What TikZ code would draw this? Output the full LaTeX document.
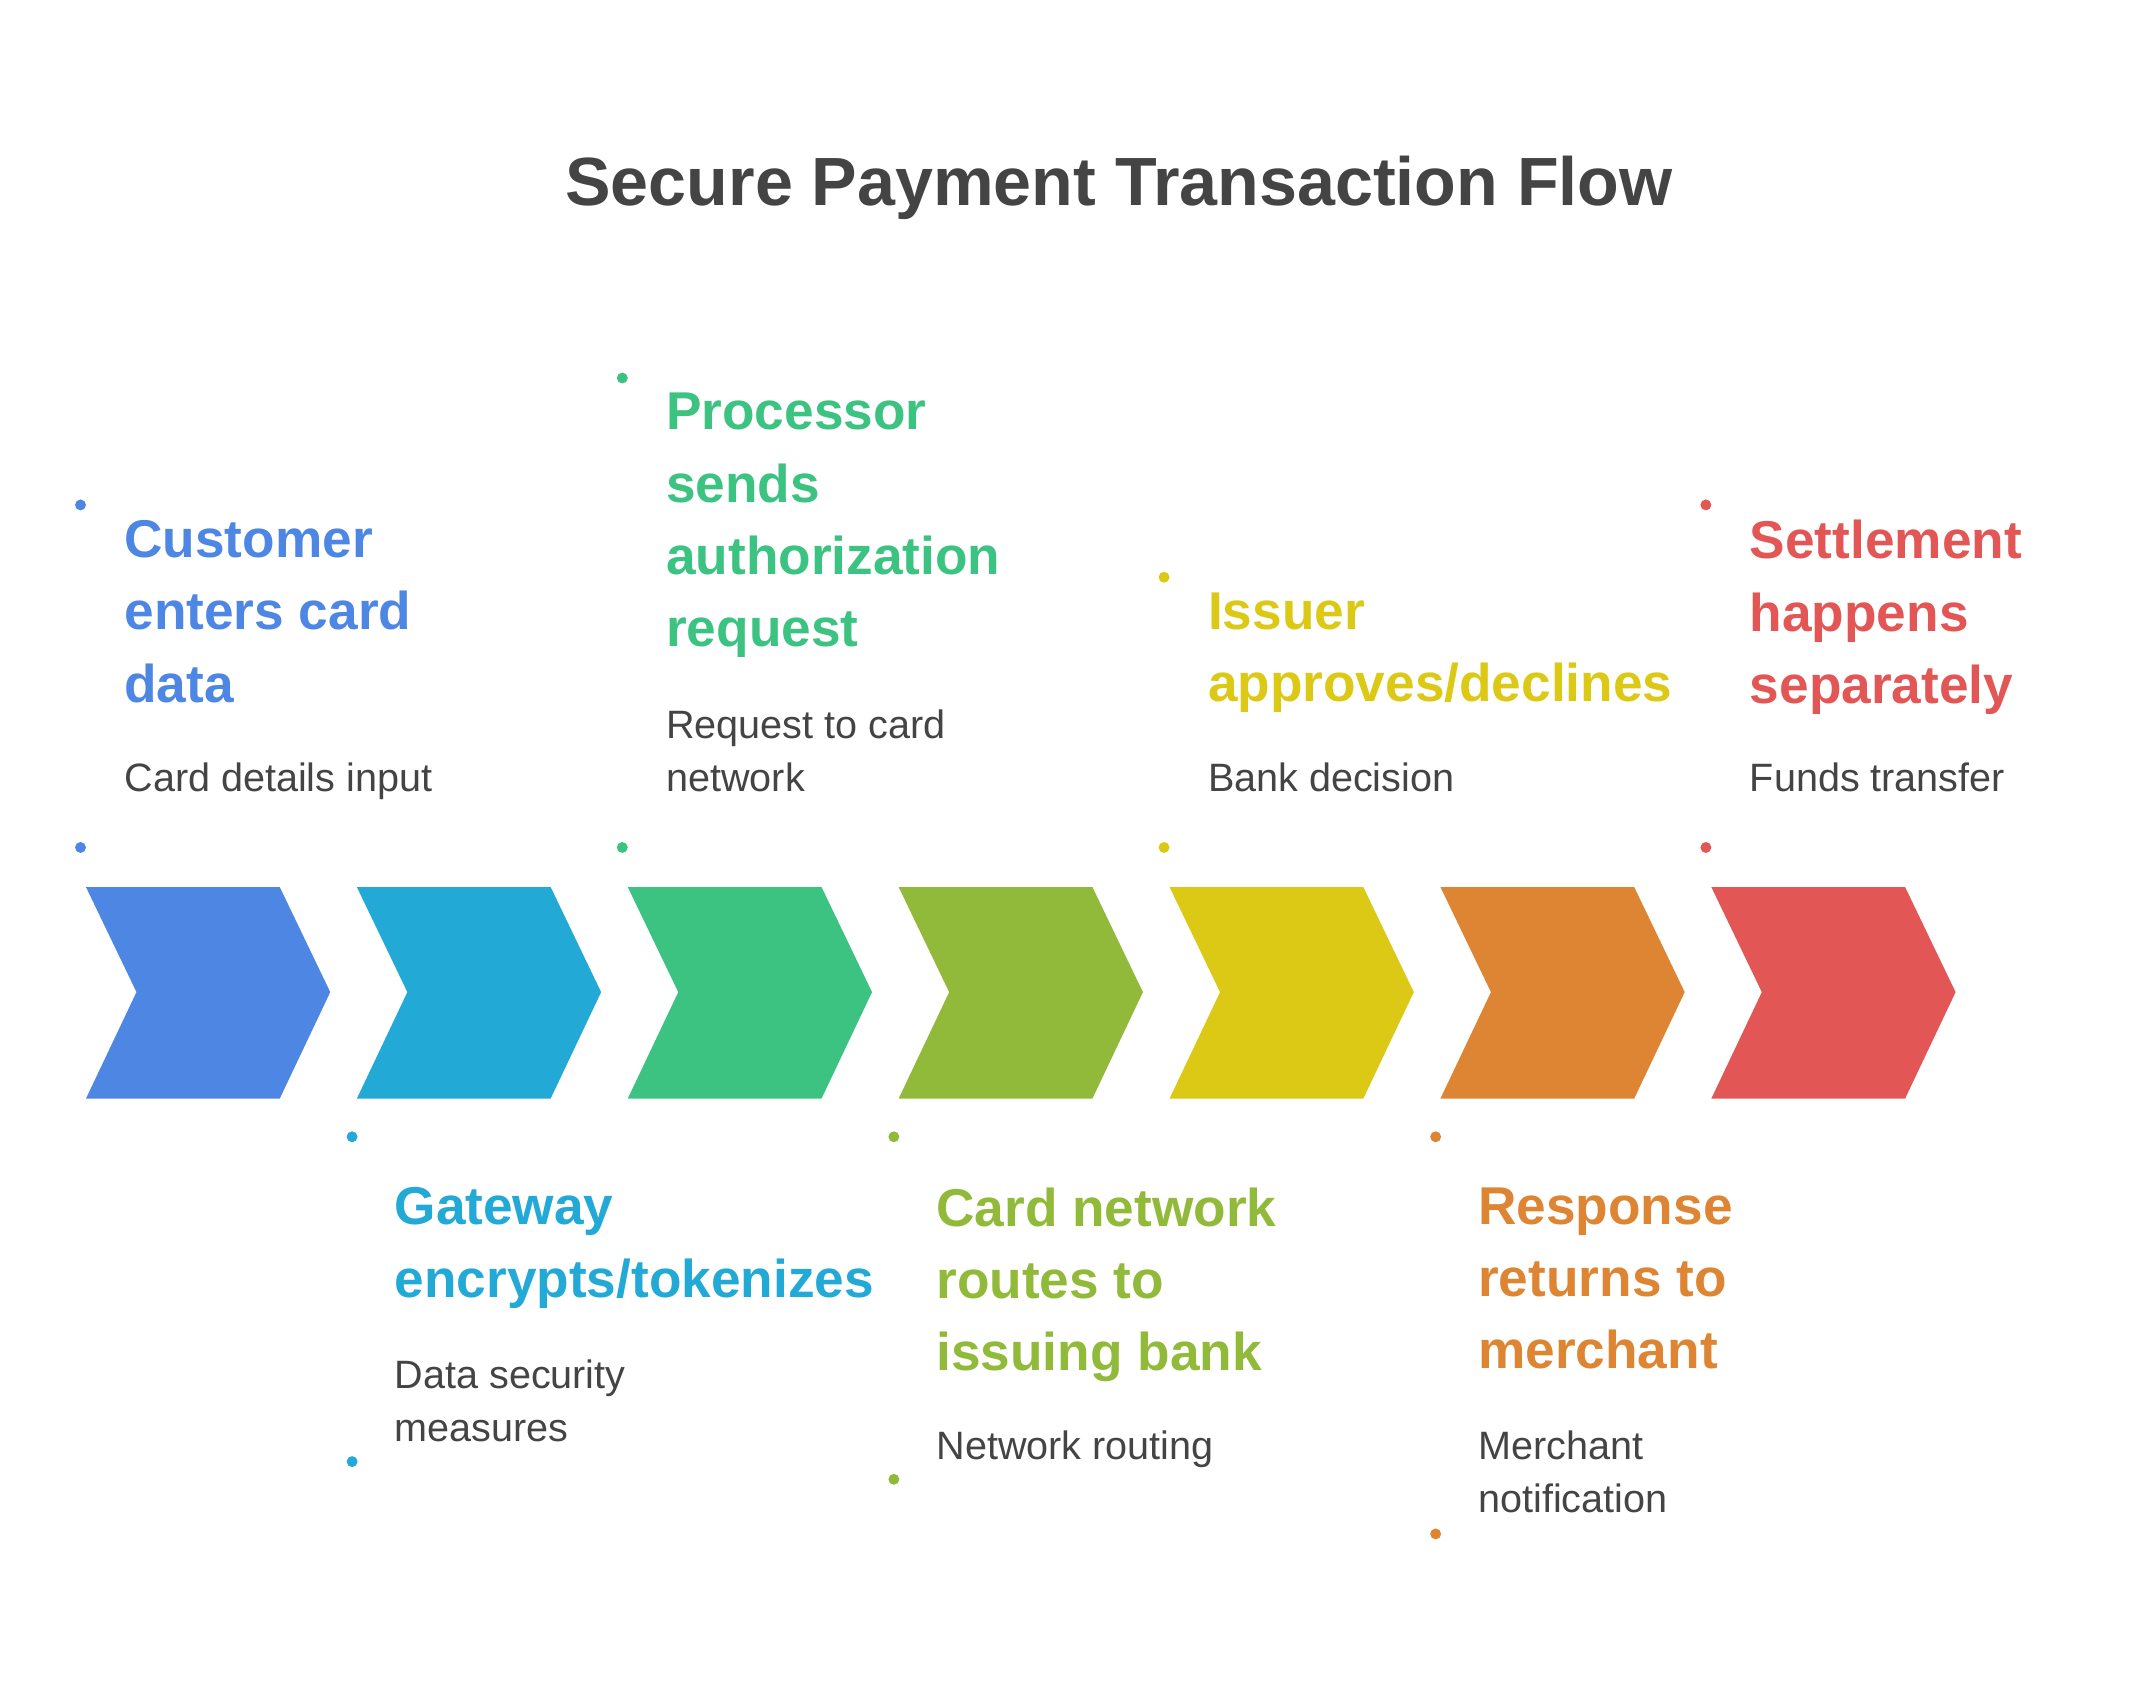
\documentclass[tikz,border=0pt]{standalone}
\usepackage{fontspec}
\setmainfont{Liberation Sans}
\definecolor{c1}{HTML}{4E86E4}
\definecolor{c2}{HTML}{22A9D6}
\definecolor{c3}{HTML}{3CC381}
\definecolor{c4}{HTML}{92BA3A}
\definecolor{c5}{HTML}{DCC916}
\definecolor{c6}{HTML}{DD8533}
\definecolor{c7}{HTML}{E35656}
\definecolor{tx}{HTML}{444444}
\begin{document}
\begin{tikzpicture}[x=1pt,y=-1pt,
  head/.style={anchor=north west,inner sep=0,align=left,font=\fontsize{39}{53}\selectfont\bfseries},
  sub/.style={anchor=north west,inner sep=0,align=left,text=tx,font=\fontsize{29}{39}\selectfont},
  dot/.style={circle,inner sep=0,minimum size=8pt}]
\useasboundingbox (0,0) rectangle (1563,1233);
\node[font=\fontsize{50}{60}\selectfont\bfseries,text=tx] (title) at (820,138) {Secure Payment Transaction Flow};
\foreach \i/\c in {0/c1,1/c2,2/c3,3/c4,4/c5,5/c6,6/c7}{
  \fill[\c] ({63+198.5*\i},650) -- ({205+198.5*\i},650) -- ({242+198.5*\i},727) -- ({205+198.5*\i},805) -- ({63+198.5*\i},805) -- ({100+198.5*\i},727) -- cycle;
}
% top items
\node[dot,fill=c1] (d1a) at (59,370) {}; \node[dot,fill=c1] (d1b) at (59,621) {};
\node[head,text=c1] (h1) at (91,381) {Customer\\enters card\\data};
\node[sub] (s1) at (91,559) {Card details input};
\node[dot,fill=c3] (d3a) at (456,277) {}; \node[dot,fill=c3] (d3b) at (456,621) {};
\node[head,text=c3] (h3) at (488,288) {Processor\\sends\\authorization\\request};
\node[sub] (s3) at (488,520) {Request to card\\network};
\node[dot,fill=c5] (d5a) at (853,423) {}; \node[dot,fill=c5] (d5b) at (853,621) {};
\node[head,text=c5] (h5) at (885,434) {Issuer\\approves/declines};
\node[sub] (s5) at (885,559) {Bank decision};
\node[dot,fill=c7] (d7a) at (1250,370) {}; \node[dot,fill=c7] (d7b) at (1250,621) {};
\node[head,text=c7] (h7) at (1282,381) {Settlement\\happens\\separately};
\node[sub] (s7) at (1282,559) {Funds transfer};
% bottom items
\node[dot,fill=c2] (d2a) at (258,833) {}; \node[dot,fill=c2] (d2b) at (258,1071) {};
\node[head,text=c2] (h2) at (289,870) {Gateway\\encrypts/tokenizes};
\node[sub] (s2) at (289,996) {Data security\\measures};
\node[dot,fill=c4] (d4a) at (655,833) {}; \node[dot,fill=c4] (d4b) at (655,1084) {};
\node[head,text=c4] (h4) at (686,870) {Card network\\routes to\\issuing bank};
\node[sub] (s4) at (686,1048) {Network routing};
\node[dot,fill=c6] (d6a) at (1052,833) {}; \node[dot,fill=c6] (d6b) at (1052,1124) {};
\node[head,text=c6] (h6) at (1083,870) {Response\\returns to\\merchant};
\node[sub] (s6) at (1083,1048) {Merchant\\notification};
\end{tikzpicture}
\end{document}
